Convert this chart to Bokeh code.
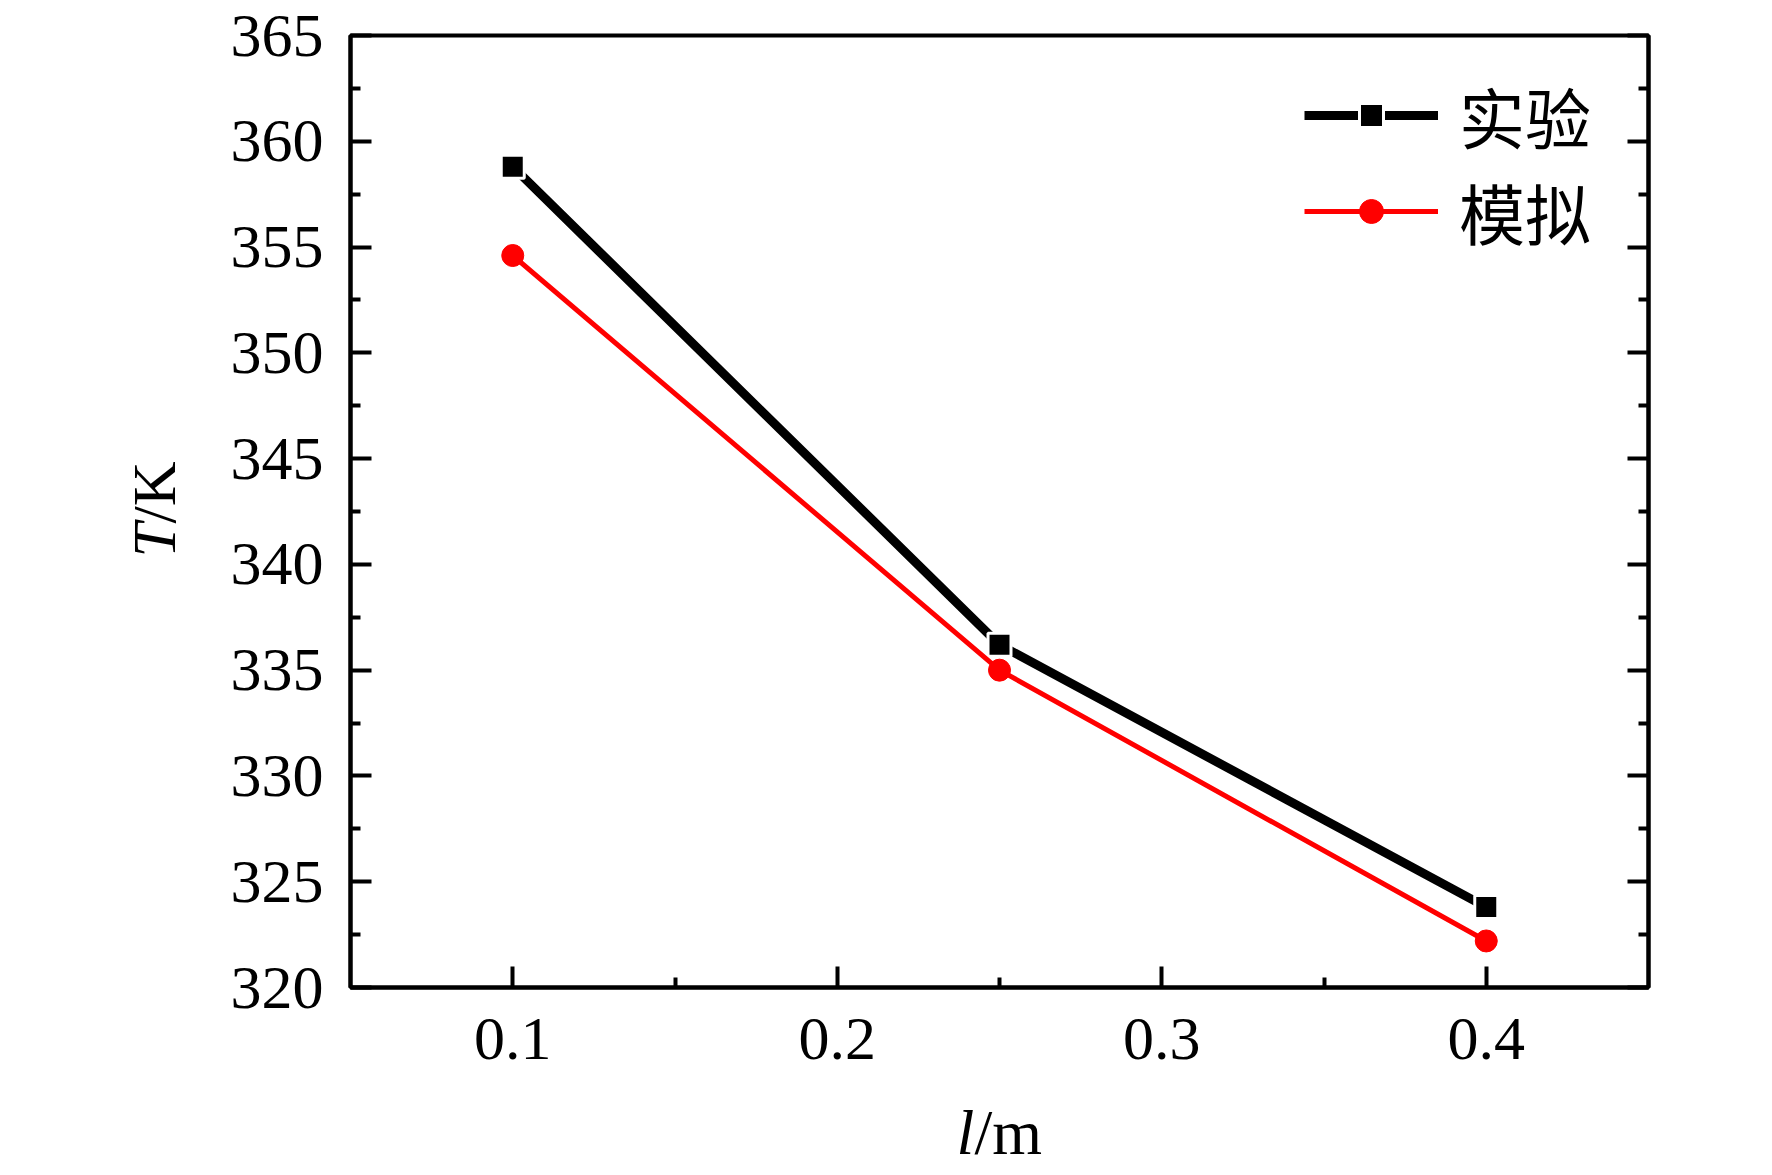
import math
from bokeh.plotting import figure
from bokeh.models import (FixedTicker, LinearAxis, Legend, LegendItem, Label,
                          CustomJSTickFormatter, Range1d)
from bokeh.embed import file_html
from bokeh.resources import INLINE

# ---- data ----
length_m = [0.1, 0.25, 0.4]
t_experiment = [358.8, 336.2, 323.8]
t_simulation = [354.6, 335.0, 322.2]
series_names = ["实验", "模拟"]

x_major = [0.1, 0.2, 0.3, 0.4]
x_minor = [0.15, 0.25, 0.35]
y_major = [320, 325, 330, 335, 340, 345, 350, 355, 360, 365]
y_minor = [322.5, 327.5, 332.5, 337.5, 342.5, 347.5, 352.5, 357.5, 362.5]

XMIN, XMAX = 0.05, 0.45
YMIN, YMAX = 320, 365

SERIF = "Liberation Serif"
CJK = "Noto Sans CJK SC"

p = figure(width=1772, height=1175, output_backend="svg", toolbar_location=None,
           x_range=Range1d(XMIN, XMAX), y_range=Range1d(YMIN, YMAX),
           min_border_left=350, min_border_right=124, min_border_top=35,
           min_border_bottom=188)
p.grid.visible = False
p.background_fill_color = "white"
p.border_fill_color = "white"
p.outline_line_color = "black"
p.outline_line_width = 4

def style_axis(ax, major, minor):
    ax.ticker = FixedTicker(ticks=major, minor_ticks=minor)
    ax.axis_line_color = "black"
    ax.axis_line_width = 4
    ax.major_tick_line_color = "black"
    ax.minor_tick_line_color = "black"
    ax.major_tick_line_width = 4
    ax.minor_tick_line_width = 4
    ax.major_tick_out = 0
    ax.minor_tick_out = 0
    ax.major_tick_in = 21
    ax.minor_tick_in = 10
    ax.major_label_text_font = SERIF
    ax.major_label_text_font_size = "62px"
    ax.major_label_text_color = "black"

style_axis(p.xaxis[0], x_major, x_minor)
p.xaxis[0].major_label_standoff = 31
style_axis(p.yaxis[0], y_major, y_minor)
p.yaxis[0].major_label_standoff = 27

right = LinearAxis()
style_axis(right, y_major, y_minor)
right.formatter = CustomJSTickFormatter(code="return ''")
right.major_label_standoff = 0
p.add_layout(right, "right")

# ---- series ----
l_exp = p.line(length_m, t_experiment, line_color="black", line_width=9)
s_exp = p.scatter(length_m, t_experiment, marker="square", size=23,
                  fill_color="black", line_color="white", line_width=3)
l_sim = p.line(length_m, t_simulation, line_color="#ff0000", line_width=5)
s_sim = p.scatter(length_m, t_simulation, marker="circle", size=22,
                  fill_color="#ff0000", line_color="#ff0000", line_width=1)

legend = Legend(items=[LegendItem(label=series_names[0], renderers=[l_exp, s_exp]),
                       LegendItem(label=series_names[1], renderers=[l_sim, s_sim])],
                location=(954, 728), glyph_width=134, glyph_height=60,
                label_standoff=21, spacing=-16, padding=10, margin=0,
                border_line_color=None, background_fill_alpha=0,
                label_text_font=CJK, label_text_font_size="66px",
                label_text_color="black")
p.add_layout(legend, "center")

# ---- axis titles (italic symbol + upright unit), placed in the side panels ----
yc = (YMIN + YMAX) / 2
xc = (XMIN + XMAX) / 2
p.add_layout(Label(x=XMIN, y=yc, x_offset=-197, y_offset=-46, text="T",
                   angle=math.pi / 2, text_font=SERIF, text_font_style="italic",
                   text_font_size="62px", text_align="left", text_baseline="middle",
                   text_color="black"), "left")
p.add_layout(Label(x=XMIN, y=yc, x_offset=-197, y_offset=-12, text="/K",
                   angle=math.pi / 2, text_font=SERIF, text_font_size="62px",
                   text_align="left", text_baseline="middle", text_color="black"), "left")
p.add_layout(Label(x=xc, y=YMIN, x_offset=-43, y_offset=-145, text="l",
                   text_font=SERIF, text_font_style="italic", text_font_size="64px",
                   text_align="left", text_baseline="alphabetic", text_color="black"), "below")
p.add_layout(Label(x=xc, y=YMIN, x_offset=-25, y_offset=-145, text="/m",
                   text_font=SERIF, text_font_size="64px",
                   text_align="left", text_baseline="alphabetic", text_color="black"), "left")

open("out.html", "w").write(file_html(p, INLINE))
